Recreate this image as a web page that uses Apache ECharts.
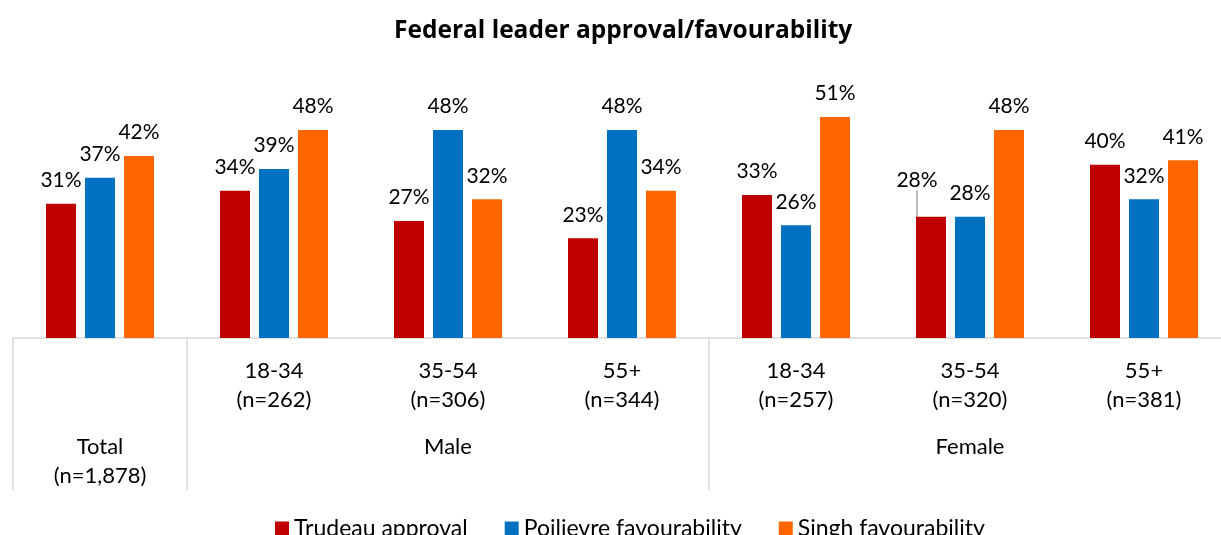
<!DOCTYPE html>
<html>
<head>
<meta charset="utf-8">
<script src="https://cdn.jsdelivr.net/npm/echarts@6/dist/echarts.min.js"></script>
<style>
  html, body { margin: 0; padding: 0; background: #fff; }
  #chart { width: 1221px; height: 535px; }
</style>
</head>
<body>
<div id="chart"></div>
<script>
// sub-category labels (first level) and group labels (second level)
const subLabels = ['', '18-34\n(n=262)', '35-54\n(n=306)', '55+\n(n=344)', '18-34\n(n=257)', '35-54\n(n=320)', '55+\n(n=381)'];
const groupLabels = ['Total\n(n=1,878)', '', 'Male', '', '', 'Female', ''];
const seriesNames = ['Trudeau approval', 'Poilievre favourability', 'Singh favourability'];
const trudeau = [31, 34, 27, 23, 33, 28, 40];
const poilievre = [37, 39, 48, 48, 26, 28, 32];
const singh = [42, 48, 32, 34, 51, 48, 41];
const colors = ['#C00000', '#0070C0', '#FF6600'];

const font = 'Lato, "Open Sans", sans-serif';
const chart = echarts.init(document.getElementById('chart'));

const labelCfg = {
  show: true,
  position: 'top',
  distance: 13,
  formatter: '{c}%',
  fontFamily: font,
  fontSize: 21,
  color: '#000'
};

function barSeries(name, data, color) {
  return {
    name: name,
    type: 'bar',
    barWidth: 30,
    barGap: '30%',
    data: data,
    itemStyle: { color: color },
    label: labelCfg
  };
}

// Female 35-54 Trudeau label is pushed aside with a leader line
const trudeauData = trudeau.map(function (v, i) {
  if (i !== 5) return v;
  return { value: v, labelLine: { show: true, lineStyle: { color: '#a6a6a6', width: 1.5 } } };
});
const s1 = barSeries(seriesNames[0], trudeauData, colors[0]);
s1.labelLayout = function (p) {
  if (p.dataIndex === 5) return { dx: -14, dy: -13 };
};

chart.setOption({
  animation: false,
  title: {
    text: 'Federal leader approval/favourability',
    left: 389,
    top: 14,
    textStyle: { fontFamily: '"Open Sans", Lato, sans-serif', fontSize: 24.5, fontWeight: 'bold', color: '#000' }
  },
  legend: {
    data: seriesNames,
    left: 270,
    top: 512,
    icon: 'rect',
    itemWidth: 14,
    itemHeight: 14,
    itemGap: 37,
    textStyle: { fontFamily: font, fontSize: 23, color: '#000' }
  },
  grid: { left: 13, top: 78, width: 1218, height: 260, outerBoundsMode: 'none' },
  xAxis: [{
    type: 'category',
    data: subLabels,
    axisLine: { lineStyle: { color: '#d9d9d9', width: 1.5 } },
    axisTick: {
      show: true,
      length: 152,
      interval: function (i) { return i === 0 || i === 1 || i === 4; },
      lineStyle: { color: '#d9d9d9', width: 1.5 }
    },
    axisLabel: {
      interval: 0,
      margin: 18,
      fontFamily: font,
      fontSize: 22,
      lineHeight: 29,
      color: '#000'
    }
  }, {
    type: 'category',
    data: groupLabels,
    position: 'bottom',
    axisLine: { show: false },
    axisTick: { show: false },
    axisLabel: {
      interval: 0,
      margin: 94,
      fontFamily: font,
      fontSize: 22,
      lineHeight: 29,
      color: '#000'
    }
  }],
  yAxis: {
    type: 'value',
    min: 0,
    max: 60,
    show: false,
    splitLine: { show: false }
  },
  series: [
    s1,
    barSeries(seriesNames[1], poilievre, colors[1]),
    barSeries(seriesNames[2], singh, colors[2])
  ]
});
</script>
</body>
</html>
